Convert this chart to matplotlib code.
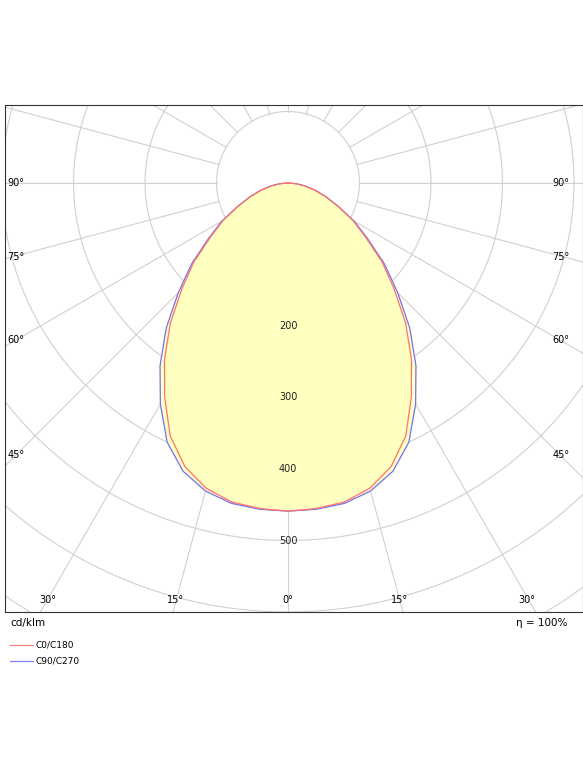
import numpy as np
import matplotlib
matplotlib.use("Agg")
import matplotlib.pyplot as plt

gamma = [0, 5, 10, 15, 20, 25, 30, 35, 40, 45, 50, 55, 60, 65, 70, 75, 80, 85, 90]
c0_c180 = [459, 457, 453, 442, 422, 390, 345, 301, 256, 210, 172, 133, 105, 77, 56, 39, 24, 11, 0]
c90_c270 = [459, 458, 455, 446, 429, 400, 357, 312, 265, 217, 176, 136, 107, 78, 57, 40, 25, 12, 0]
ring_labels = [200, 300, 400, 500]

fig = plt.figure(figsize=(5.83, 7.77), dpi=100)
W, H = 583, 777
cx, cy, s = 288, 183, 0.715
x0, x1, y0, y1 = 5, 583, 105, 612
ax = fig.add_axes([x0 / W, 1 - y1 / H, (x1 - x0) / W, (y1 - y0) / H])
ax.set_xlim((x0 - cx) / s, (x1 - cx) / s)
ax.set_ylim(-(y1 - cy) / s, (cy - y0) / s)
ax.set_xticks([]); ax.set_yticks([])
for sp in ax.spines.values():
    sp.set_color('#333333'); sp.set_linewidth(0.8)

grid = '#d0d0d0'
t = np.linspace(0, 2 * np.pi, 400)
for r in range(100, 1000, 100):
    ax.plot(r * np.cos(t), r * np.sin(t), color=grid, lw=0.8, zorder=1)
for a in range(0, 360, 15):
    ar = np.radians(a)
    ax.plot([100 * np.sin(ar), 1200 * np.sin(ar)], [-100 * np.cos(ar), -1200 * np.cos(ar)],
            color=grid, lw=0.8, zorder=1)

def curve(vals):
    g = np.radians(np.array(gamma, float))
    v = np.array(vals, float)
    gg = np.concatenate([-g[::-1], g[1:]])
    vv = np.concatenate([v[::-1], v[1:]])
    return vv * np.sin(gg), -vv * np.cos(gg)

xa, ya = curve(c0_c180)
xb, yb = curve(c90_c270)
ax.fill(xb, yb, color='#ffffc0', zorder=2)
ax.fill(xa, ya, color='#ffffc0', zorder=2)
ax.plot(xa, ya, color='#ff7070', lw=0.9, zorder=4)
ax.plot(xb, yb, color='#7070ff', lw=0.9, zorder=3)

for r in ring_labels:
    ax.text(0, -r, str(r), ha='center', va='center', fontsize=7, color='#222222', zorder=5,
            bbox=dict(facecolor='white', edgecolor='none', pad=0.5, alpha=0))

def px(x, y):
    return (x - cx) / s, (cy - y) / s

side = [(90, 183), (75, 257), (60, 340), (45, 455)]
for lab, y in side:
    ax.text(*px(16, y), f"{lab}°", ha='center', va='center', fontsize=7)
    ax.text(*px(561, y), f"{lab}°", ha='center', va='center', fontsize=7)
for lab, x in [(30, 48), (15, 176), (0, 288), (15, 400), (30, 527)]:
    ax.text(*px(x, 600), f"{lab}°", ha='center', va='center', fontsize=7)

fig.text(10 / W, 1 - 623 / H, "cd/klm", ha='left', va='center', fontsize=7.5)
fig.text(567 / W, 1 - 623 / H, "η = 100%", ha='right', va='center', fontsize=7.5)
for y, c, lab in [(645, '#ff8080', 'C0/C180'), (661, '#8080ff', 'C90/C270')]:
    fig.add_artist(plt.Line2D([10 / W, 33 / W], [1 - y / H, 1 - y / H], color=c, lw=0.9))
    fig.text(36 / W, 1 - y / H, lab, ha='left', va='center', fontsize=6.5)

fig.savefig("out.png", dpi=100)
